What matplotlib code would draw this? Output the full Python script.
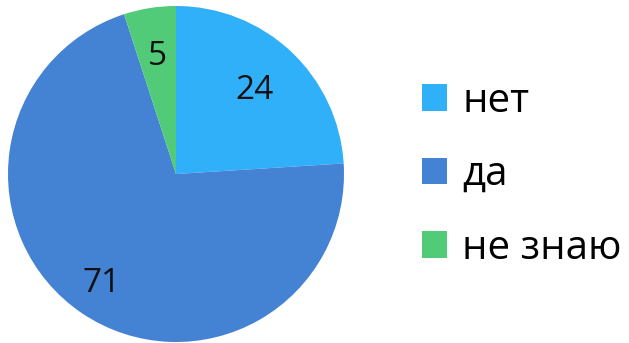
import numpy as np
import matplotlib
matplotlib.use('Agg')
import matplotlib.pyplot as plt
from matplotlib.patches import Patch

labels = ['нет', 'да', 'не знаю']
values = [24, 71, 5]
colors = ['#31B0FA', '#4482D4', '#52CB78']
label_dist = [0.68, 0.79, 0.71]  # radial position of the number inside each slice

plt.rcParams['font.family'] = ['Open Sans', 'DejaVu Sans']

fig = plt.figure(figsize=(6.29, 3.43), dpi=100)
ax = fig.add_axes([8/629, 1/343, 336/629, 336/343])

wedges, _ = ax.pie(values, colors=colors, startangle=90, counterclock=False,
                   radius=1, wedgeprops=dict(linewidth=0))

for w, v, d in zip(wedges, values, label_dist):
    th = np.deg2rad((w.theta1 + w.theta2)/2)
    ax.text(d*np.cos(th), d*np.sin(th), str(v), ha='center', va='center',
            fontsize=24, color='#111111')

ax.set_xlim(-1, 1)
ax.set_ylim(-1, 1)
ax.set_aspect('equal')
ax.axis('off')

handles = [Patch(facecolor=c, edgecolor='none') for c in colors]
fig.legend(handles, labels, loc='center left', bbox_to_anchor=(422/629, 0.49),
           frameon=False, fontsize=29, handlelength=0.62, handleheight=0.62,
           handletextpad=0.38, labelspacing=0.82, borderpad=0, borderaxespad=0)

fig.savefig('out.png', dpi=100)
